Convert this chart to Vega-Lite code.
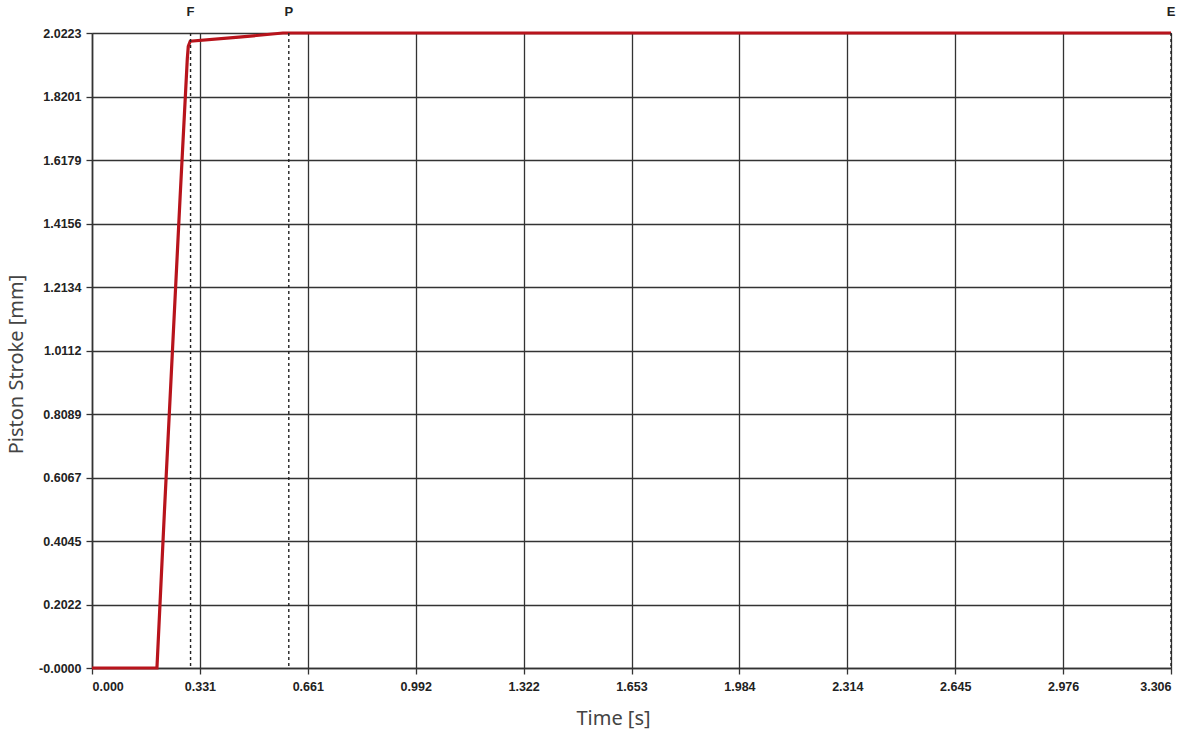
{
  "$schema": "https://vega.github.io/schema/vega-lite/v6.json",
  "autosize": "none",
  "width": 1079,
  "height": 635,
  "padding": {"left": 92, "top": 33, "right": 29, "bottom": 65},
  "background": "white",
  "config": {
    "view": {"stroke": null},
    "axis": {
      "labelFont": "Liberation Sans",
      "labelFontWeight": "bold",
      "labelFontSize": 12.5,
      "labelColor": "#222222",
      "titleFont": "Noto Sans",
      "titleFontWeight": "normal",
      "titleFontSize": 20,
      "titleColor": "#444444",
      "gridColor": "#333333",
      "gridOpacity": 1,
      "gridWidth": 1.3,
      "tickColor": "#333333",
      "tickSize": 6,
      "tickWidth": 1.3,
      "domainColor": "#333333",
      "domainWidth": 1.6
    }
  },
  "datasets": {
    "stroke": [
      {"t": 0.0, "s": 0.0},
      {"t": 0.199, "s": 0.0},
      {"t": 0.222, "s": 0.5},
      {"t": 0.246, "s": 1.0},
      {"t": 0.270, "s": 1.5},
      {"t": 0.292, "s": 1.94},
      {"t": 0.295, "s": 1.98},
      {"t": 0.301, "s": 1.996},
      {"t": 0.45, "s": 2.009},
      {"t": 0.585, "s": 2.02233},
      {"t": 3.3062, "s": 2.02233}
    ],
    "markers": [
      {"t": 0.302, "name": "F"},
      {"t": 0.603, "name": "P"},
      {"t": 3.3062, "name": "E"}
    ]
  },
  "layer": [
    {
      "data": {"name": "stroke"},
      "mark": {"type": "line", "color": "#b8141c", "strokeWidth": 3.2, "clip": false},
      "encoding": {
        "x": {
          "field": "t",
          "type": "quantitative",
          "scale": {"domain": [0, 3.3062], "nice": false, "zero": false},
          "axis": {
            "title": "Time [s]",
            "values": [0, 0.33062, 0.66124, 0.99186, 1.32248, 1.6531, 1.98372, 2.31434, 2.64496, 2.97558, 3.3062],
            "format": ".3f",
            "labelPadding": 6,
            "titleX": 521,
            "titlePadding": 16,
            "domain": true
          }
        },
        "y": {
          "field": "s",
          "type": "quantitative",
          "scale": {"domain": [0, 2.02233], "nice": false, "zero": false},
          "axis": {
            "title": "Piston Stroke [mm]",
            "values": [0, 0.202233, 0.404466, 0.606699, 0.808932, 1.011165, 1.213398, 1.415631, 1.617864, 1.820097, 2.02233],
            "format": ".4f",
            "labelExpr": "datum.value == 0 ? '-0.0000' : datum.label",
            "labelPadding": 5,
            "titleY": 331,
            "titlePadding": 12,
            "domain": true
          }
        }
      }
    },
    {
      "data": {"name": "markers"},
      "mark": {"type": "rule", "color": "#222222", "strokeWidth": 1.4, "strokeDash": [3, 3], "clip": false},
      "encoding": {
        "x": {"field": "t", "type": "quantitative"}
      }
    },
    {
      "data": {"name": "markers"},
      "mark": {"type": "text", "font": "Liberation Sans", "fontWeight": "bold", "fontSize": 13, "color": "#222222", "dy": -21, "clip": false},
      "encoding": {
        "x": {"field": "t", "type": "quantitative"},
        "y": {"datum": 2.02233, "type": "quantitative"},
        "text": {"field": "name"}
      }
    }
  ]
}
